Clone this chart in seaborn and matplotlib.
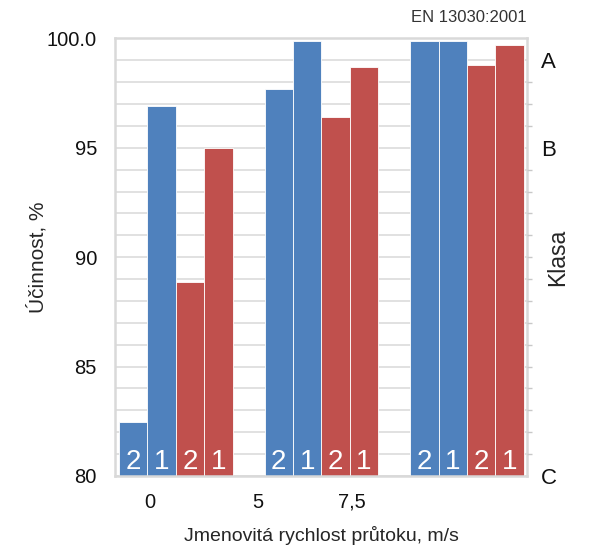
import pandas as pd
import seaborn as sns
import matplotlib.pyplot as plt

# values (three groups, four bars each)
blue_2 = [82.45, 97.7, 99.9]
blue_1 = [96.9, 99.9, 99.9]
red_2 = [88.85, 96.4, 98.8]
red_1 = [95.0, 98.7, 99.7]
bar_names = ["2", "1", "2", "1"]
bar_series = ["blue", "blue", "red", "red"]

xtick_labels = ["0", "5", "7,5"]
ytick_values = [80, 85, 90, 95, 100]
ytick_labels = ["80", "85", "90", "95", "100.0"]
class_values = [80, 95, 99]
class_labels = ["C", "B", "A"]

palette = {"blue": "#4F81BD", "red": "#C0504D"}

rows = []
for g in range(3):
    for i, vals in enumerate([blue_2, blue_1, red_2, red_1]):
        rows.append({"pos": g * 5.12 + i, "value": vals[g],
                     "series": bar_series[i], "label": bar_names[i]})
df = pd.DataFrame(rows)

sns.set_theme(style="white")
plt.rcParams["font.family"] = ["Liberation Sans", "DejaVu Sans"]
plt.rcParams["text.color"] = "#111111"

fig, ax = plt.subplots(figsize=(5.98, 5.48), dpi=100)
fig.subplots_adjust(left=0.1923, right=0.8813, bottom=0.1314, top=0.9299)

sns.barplot(data=df, x="pos", y="value", hue="series", palette=palette,
            native_scale=True, width=1, dodge=False, errorbar=None,
            saturation=1, legend=False, edgecolor="white", linewidth=0.6, ax=ax)

ax.set_xlim(-0.64, 13.85)
ax.set_ylim(80, 100)
ax.set_axisbelow(True)

ax.set_xticks([0.59, 4.39, 7.69], xtick_labels)
ax.set_yticks(ytick_values, ytick_labels)
ax.set_yticks(range(80, 101), minor=True)
ax.yaxis.grid(True, which="both", color="#D9D9D9", lw=1.1)
ax.xaxis.grid(False)
ax.tick_params(axis="y", which="both", length=0, pad=13, labelsize=14.5, labelcolor="#111111")
ax.tick_params(axis="x", length=0, pad=12, labelsize=14.5, labelcolor="#111111")
for s in ax.spines.values():
    s.set_visible(True)
    s.set_color("#D9D9D9")
    s.set_linewidth(1.8)

for r in df.itertuples():
    ax.text(r.pos, 80.3, r.label, ha="center", va="baseline",
            color="white", fontsize=20)

ax.set_xlabel("Jmenovitá rychlost průtoku, m/s", fontsize=14, labelpad=10)
ax.set_ylabel("Účinnost, %", fontsize=15)
ax.yaxis.label.set_va("center")
ax.yaxis.set_label_coords(-0.189, 0.5)

# class axis on the right
ax2 = ax.twinx()
ax2.set_ylim(80, 100)
ax2.set_yticks(class_values, class_labels)
ax2.set_yticks(range(81, 100), minor=True)
ax2.tick_params(axis="y", which="major", length=0, pad=10, labelsize=16, labelcolor="#111111")
ax2.tick_params(axis="y", which="minor", length=3.6, width=1, color="#C8C8C8")
for s in ax2.spines.values():
    s.set_visible(False)
ax2.set_ylabel("Klasa", fontsize=16.5)
ax2.yaxis.label.set_va("center")
ax2.yaxis.set_label_coords(1.075, 0.5)

fig.text(527 / 598, 1 - 18 / 548, "EN 13030:2001", ha="right", va="center",
         fontsize=12, color="#333333")

fig.savefig("out.png", dpi=100)
